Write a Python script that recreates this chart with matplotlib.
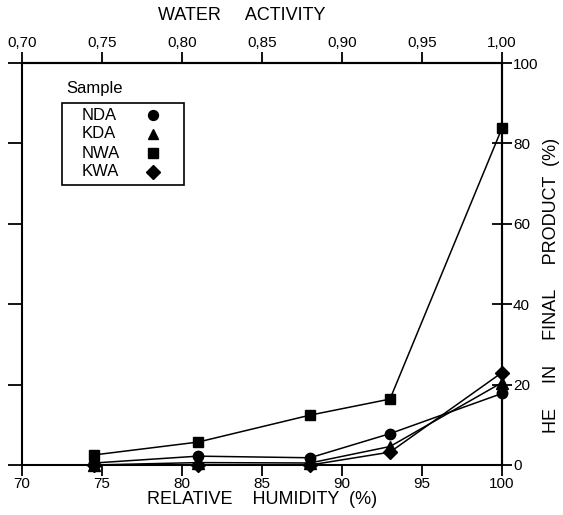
import matplotlib
matplotlib.use('Agg')
import matplotlib.pyplot as plt
from matplotlib.patches import Rectangle

plt.rcParams['font.family'] = ['Liberation Sans', 'DejaVu Sans']

# relative humidity (%) of each storage condition
rh = [74.5, 81, 88, 93, 100]

# HE in final product (%) per sample
nda = [0.5, 2.2, 1.8, 7.8, 17.8]
kda = [0.0, 0.6, 0.5, 4.6, 20.5]
nwa = [2.5, 5.7, 12.4, 16.4, 83.8]
kwa = [0.0, 0.0, 0.0, 3.2, 23.0]

samples = ['NDA', 'KDA', 'NWA', 'KWA']
markers = ['o', '^', 's', 'D']
sizes = [7.5, 8, 7.5, 7]

rh_ticks = [70, 75, 80, 85, 90, 95, 100]
aw_ticks = [0.70, 0.75, 0.80, 0.85, 0.90, 0.95, 1.00]
aw_labels = ['0,70', '0,75', '0,80', '0,85', '0,90', '0,95', '1,00']
he_ticks = [0, 20, 40, 60, 80, 100]

W, H = 563, 515
AX_L, AX_R, AX_T, AX_B = 22, 502, 63, 465
fig = plt.figure(figsize=(W / 100, H / 100), dpi=100)
ax = fig.add_axes([AX_L / W, 1 - AX_B / H, (AX_R - AX_L) / W, (AX_B - AX_T) / H])


def to_ax(px, py):
    # pixel position in the figure -> axes fraction
    return (px - AX_L) / (AX_R - AX_L), (AX_B - py) / (AX_B - AX_T)


for vals, m, s in zip([nda, kda, nwa, kwa], markers, sizes):
    ax.plot(rh, vals, color='black', lw=1.1, marker=m, ms=s, clip_on=False, zorder=3)

ax.set_xlim(70, 100)
ax.set_ylim(0, 100)
for sp in ax.spines.values():
    sp.set_linewidth(1.5)

ax.set_xticks(rh_ticks)
ax.set_yticks(he_ticks)
ax.set_yticklabels([])
ax.tick_params(axis='x', direction='out', length=8, width=1.3, labelsize=11, pad=1)
ax.tick_params(axis='y', direction='out', length=10, width=1.3)
ax.set_xlabel('RELATIVE    HUMIDITY  (%)', fontsize=13, labelpad=0)

top = ax.secondary_xaxis('top', functions=(lambda x: x / 100, lambda x: x * 100))
top.set_xticks(aw_ticks)
top.set_xticklabels(aw_labels)
top.tick_params(direction='out', length=8, width=1.3, labelsize=11, pad=1)
top.spines['top'].set_linewidth(1.5)

right = ax.secondary_yaxis('right')
right.set_yticks(he_ticks)
right.tick_params(direction='inout', length=14, width=1.3, labelsize=11, pad=1)
right.spines['right'].set_linewidth(1.5)

fig.text(552 / W, 1 - 285 / H, 'HE     IN     FINAL     PRODUCT  (%)', fontsize=13,
         rotation=90, ha='center', va='center')
fig.text(242 / W, 1 - 15 / H, 'WATER     ACTIVITY', fontsize=13,
         ha='center', va='center')

# legend box: labels on the left, markers on the right
x0, y0 = to_ax(62, 185)
x1, y1 = to_ax(184, 103)
ax.add_patch(Rectangle((x0, y0), x1 - x0, y1 - y0, transform=ax.transAxes,
                       fill=False, edgecolor='black', lw=1.2, zorder=4))
tx, _ = to_ax(82, 0)
mx, _ = to_ax(153, 0)
for i, (name, m, s) in enumerate(zip(samples, markers, sizes)):
    _, ry = to_ax(0, 115 + 19 * i)
    ax.text(tx, ry, name, transform=ax.transAxes, fontsize=12,
            ha='left', va='center')
    ax.plot([mx], [ry], transform=ax.transAxes, color='black', marker=m,
            ms=s * 0.95, linestyle='none')
sx, sy = to_ax(66, 89)
ax.text(sx, sy, 'Sample', transform=ax.transAxes, fontsize=12,
        ha='left', va='center')

fig.savefig('out.png', dpi=100)
